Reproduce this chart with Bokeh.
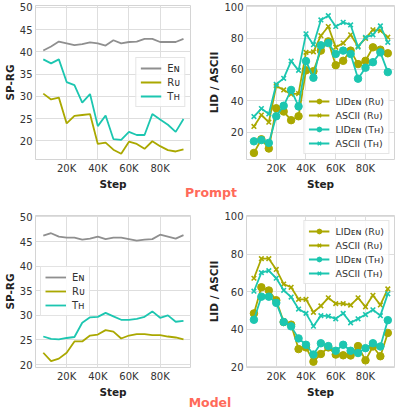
from bokeh.plotting import figure
from bokeh.models import FixedTicker, Legend, LegendItem, Div, Range1d
from bokeh.layouts import column, row
from bokeh.embed import file_html
from bokeh.resources import INLINE

steps = [5000, 10000, 15000, 20000, 25000, 30000, 35000, 40000, 45000, 50000,
         55000, 60000, 65000, 70000, 75000, 80000, 85000, 90000, 95000]
x_ticks = [20000, 40000, 60000, 80000]
x_tick_labels = ["20K", "40K", "60K", "80K"]
sp_ticks = [20, 25, 30, 35, 40, 45, 50]
lid_ticks = [20, 40, 60, 80, 100]

# Prompt: SP-RG
prompt_en = [40.3, 41.2, 42.3, 41.9, 41.5, 41.7, 42.1, 41.9, 41.4, 42.6,
             41.9, 42.2, 42.3, 42.9, 42.9, 42.2, 42.2, 42.2, 42.9]
prompt_ru = [30.6, 29.3, 29.7, 23.9, 25.6, 25.8, 26.0, 19.3, 19.6, 18.0,
             17.1, 19.8, 19.3, 18.2, 19.9, 18.8, 17.9, 17.6, 18.1]
prompt_th = [38.3, 37.4, 38.3, 33.2, 32.5, 28.6, 30.5, 23.3, 25.7, 20.4,
             20.2, 22.0, 21.3, 21.3, 26.0, 24.8, 23.6, 22.0, 24.9]

# Prompt: LID / ASCII
prompt_lid_ru = [6.7, 15.4, 9.5, 35.2, 33.1, 27.6, 30.1, 59.4, 58.9, 72.0,
                 77.9, 62.7, 65.5, 72.0, 63.4, 65.5, 74.1, 72.6, 70.3]
prompt_ascii_ru = [23.6, 30.9, 26.3, 49.5, 46.9, 44.2, 44.6, 70.9, 71.2, 81.5,
                   87.4, 74.1, 76.8, 82.1, 74.7, 79.8, 85.3, 84.8, 80.6]
prompt_lid_th = [14.1, 14.9, 13.1, 30.1, 36.8, 46.9, 36.4, 65.3, 54.7, 75.4,
                 76.8, 69.9, 72.0, 69.9, 54.1, 61.1, 64.6, 70.9, 58.3]
prompt_ascii_th = [29.9, 35.0, 31.6, 50.5, 54.3, 65.3, 59.4, 82.7, 75.8, 91.6,
                   94.3, 87.4, 90.1, 88.4, 74.3, 80.4, 82.1, 87.8, 77.3]

# Model: SP-RG
model_en = [46.2, 46.7, 46.0, 45.8, 45.8, 45.4, 45.6, 46.0, 45.5, 45.8,
            45.8, 45.5, 45.2, 45.4, 45.5, 46.4, 46.0, 45.6, 46.3]
model_ru = [22.4, 20.7, 21.2, 22.4, 24.7, 24.7, 25.9, 26.1, 27.0, 26.7,
            25.3, 25.9, 26.2, 26.2, 26.0, 26.0, 25.7, 25.5, 25.1]
model_th = [25.7, 25.2, 25.1, 25.4, 25.6, 28.5, 29.6, 29.7, 30.5, 29.8,
            29.1, 29.1, 29.3, 29.7, 30.8, 29.5, 30.0, 28.7, 28.9]

# Model: LID / ASCII
model_lid_ru = [48.4, 62.3, 60.6, 55.4, 43.8, 42.4, 29.4, 30.3, 22.7, 26.8,
                30.3, 26.5, 26.1, 26.0, 31.0, 23.4, 30.8, 25.6, 38.0]
model_ascii_ru = [67.1, 77.5, 77.5, 71.8, 64.0, 62.3, 55.9, 55.9, 49.0, 52.4,
                  56.7, 53.6, 53.6, 52.8, 56.7, 51.9, 58.0, 52.9, 61.4]
model_lid_th = [45.0, 57.3, 57.3, 54.0, 43.8, 41.5, 35.1, 31.7, 26.5, 32.5,
                31.0, 28.5, 31.7, 28.5, 27.3, 29.9, 32.5, 30.8, 44.8]
model_ascii_th = [60.2, 70.1, 71.1, 67.1, 60.7, 57.1, 50.7, 48.4, 41.6, 47.2,
                  46.9, 45.5, 48.4, 43.4, 45.5, 47.8, 50.3, 47.2, 58.8]

C_EN = "#8f8f8f"
C_RU = "#aaa800"
C_TH = "#1cc6b0"
FONT = "DejaVu Sans"


def make_fig(width, height, y_range, yticks, ylabel, border_right, border_top):
    p = figure(width=width, height=height, output_backend="svg",
               toolbar_location=None, x_range=Range1d(0, 99500),
               y_range=Range1d(*y_range), min_border_left=0,
               min_border_right=border_right, min_border_top=border_top,
               min_border_bottom=0)
    p.xaxis.ticker = FixedTicker(ticks=x_ticks)
    p.xaxis.major_label_overrides = {t: l for t, l in zip(x_ticks, x_tick_labels)}
    p.yaxis.ticker = FixedTicker(ticks=yticks)
    p.axis.axis_line_color = None
    p.axis.major_tick_line_color = None
    p.axis.minor_tick_line_color = None
    p.axis.major_tick_out = 0
    p.axis.major_label_text_font = FONT
    p.axis.major_label_text_font_size = "10px"
    p.axis.major_label_text_color = "#333333"
    p.axis.major_label_standoff = 3
    p.axis.axis_label_text_font = FONT
    p.axis.axis_label_text_font_size = "10.5px"
    p.axis.axis_label_text_font_style = "bold"
    p.axis.axis_label_text_color = "#222222"
    p.axis.axis_label_standoff = 1
    p.xaxis.axis_label = "Step"
    p.yaxis.axis_label = ylabel
    p.grid.grid_line_color = "#dedede"
    p.grid.grid_line_width = 1
    p.outline_line_color = "#d4d4d4"
    return p


def add_legend(p, items, loc, font_size):
    leg = Legend(items=items, location=loc)
    leg.label_text_font = FONT
    leg.label_text_font_size = font_size
    leg.label_text_color = "#333333"
    leg.label_width = 0
    leg.glyph_width = 21
    leg.glyph_height = 12
    leg.label_height = 12
    leg.label_standoff = 6
    leg.spacing = 2
    leg.padding = 4
    leg.margin = 5
    leg.border_line_color = "#cccccc"
    leg.border_line_width = 1
    leg.background_fill_alpha = 0.85
    p.add_layout(leg)


def sp_plot(width, height, y_range, en, ru, th, loc, border_right, border_top):
    p = make_fig(width, height, y_range, sp_ticks, "SP-RG", border_right, border_top)
    r1 = p.line(steps, en, color=C_EN, line_width=1.8)
    r2 = p.line(steps, ru, color=C_RU, line_width=1.8)
    r3 = p.line(steps, th, color=C_TH, line_width=1.8)
    add_legend(p, [LegendItem(label="E\u0274", renderers=[r1]),
                   LegendItem(label="R\u1d1c", renderers=[r2]),
                   LegendItem(label="T\u029c", renderers=[r3])], loc, "10px")
    return p


def lid_plot(width, height, y_range, lid_ru, ascii_ru, lid_th, ascii_th, loc,
             border_right, border_top):
    p = make_fig(width, height, y_range, lid_ticks, "LID / ASCII", border_right, border_top)
    items = []
    for vals, col, mk, lab in [
        (lid_ru, C_RU, "circle", "LID\u1d07\u0274 (R\u1d1c)"),
        (ascii_ru, C_RU, "x", "ASCII (R\u1d1c)"),
        (lid_th, C_TH, "circle", "LID\u1d07\u0274 (T\u029c)"),
        (ascii_th, C_TH, "x", "ASCII (T\u029c)"),
    ]:
        l = p.line(steps, vals, color=col, line_width=1.8)
        if mk == "circle":
            s = p.scatter(steps, vals, marker="circle", size=7.5, color=col)
        else:
            s = p.scatter(steps, vals, marker="x", size=6.5, line_color=col,
                          line_width=1.6)
        items.append(LegendItem(label=lab, renderers=[l, s]))
    add_legend(p, items, loc, "9.5px")
    return p


LW, RW = 205, 194
TOP_H, BOT_H = 192, 201

tl = sp_plot(LW, TOP_H, (15.8, 50.4), prompt_en, prompt_ru, prompt_th,
             "center_right", 15, 5)
tr = lid_plot(RW, TOP_H, (2.5, 100.8), prompt_lid_ru, prompt_ascii_ru,
              prompt_lid_th, prompt_ascii_th, "bottom_right", 5, 5)
bl = sp_plot(LW, BOT_H, (19.4, 50.3), model_en, model_ru, model_th,
             "center_left", 15, 16)
br = lid_plot(RW, BOT_H, (19.6, 100.5), model_lid_ru, model_ascii_ru,
              model_lid_th, model_ascii_th, "top_right", 5, 16)

title_style = {"color": "#ff6a5a", "font-size": "12.5px", "font-family": FONT,
               "font-weight": "bold", "text-align": "center",
               "line-height": "12px"}
prompt_div = Div(text="Prompt", width=70, height=12, styles=title_style,
                 margin=(-5, 0, 0, 176))
model_div = Div(text="Model", width=70, height=12, styles=title_style,
                margin=(-3, 0, 0, 175))

layout = column(row(tl, tr), prompt_div, row(bl, br), model_div)

open("out.html", "w").write(file_html(layout, INLINE))
